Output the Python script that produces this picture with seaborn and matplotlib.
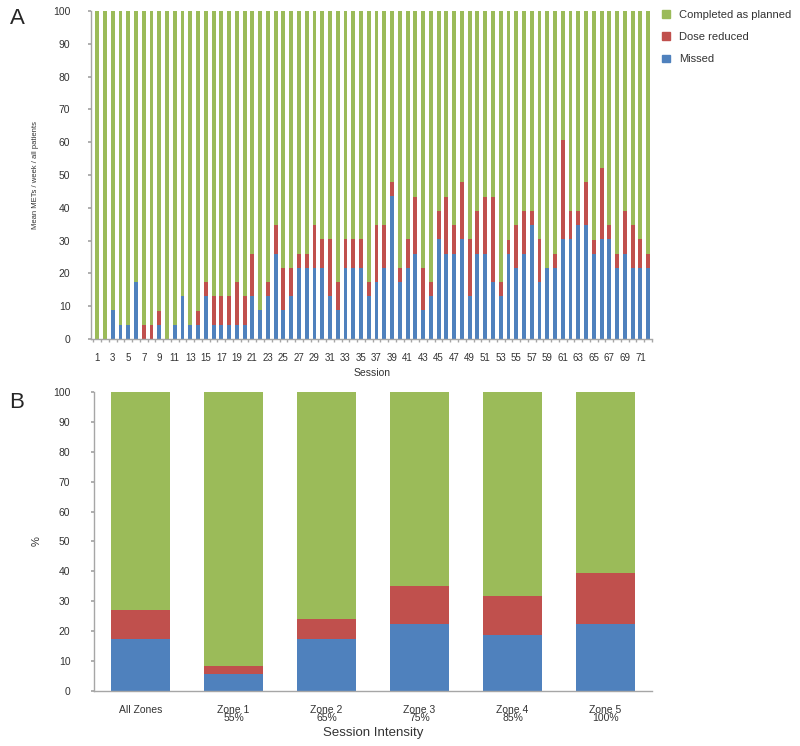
import matplotlib
matplotlib.use("Agg")
import matplotlib.pyplot as plt
from matplotlib.patches import Patch
import pandas as pd
import seaborn as sns

# Data - panel A (per session, % of mean METs)
sessions = [str(i) for i in range(1, 73)]
missed = [0, 0, 8.7, 4.3, 4.3, 17.4, 0, 0, 4.3, 0,
          4.3, 13, 4.3, 4.3, 13, 4.3, 4.3, 4.3, 4.3, 4.3,
          13, 8.7, 13, 26, 8.7, 13, 21.7, 21.7, 21.7, 21.7,
          13, 8.7, 21.7, 21.7, 21.7, 13, 17.4, 21.7, 43.5, 17.4,
          21.7, 26, 8.7, 13, 30.4, 26, 26, 30.4, 13, 26,
          26, 17.4, 13, 26, 21.7, 26, 34.8, 17.4, 21.7, 21.7,
          30.4, 30.4, 34.8, 34.8, 26, 30.4, 30.4, 21.7, 26, 21.7,
          21.7, 21.7]
dose_reduced = [0, 0, 0, 0, 0, 0, 4.3, 4.3, 4.3, 0,
                0, 0, 0, 4.3, 4.3, 8.7, 8.7, 8.7, 13, 8.7,
                13, 0, 4.3, 8.7, 13, 8.7, 4.3, 4.3, 13, 8.7,
                17.4, 8.7, 8.7, 8.7, 8.7, 4.3, 17.4, 13, 4.3, 4.3,
                8.7, 17.4, 13, 4.3, 8.7, 17.4, 8.7, 17.4, 17.4, 13,
                17.4, 26, 4.3, 4.3, 13, 13, 4.3, 13, 0, 4.3,
                30.4, 8.7, 4.3, 13, 4.3, 21.7, 4.3, 4.3, 13, 13,
                8.7, 4.3]

# Data - panel B (by session intensity)
zones = ["All Zones", "Zone 1\n55%", "Zone 2\n65%", "Zone 3\n75%", "Zone 4\n85%", "Zone 5\n100%"]
zone_missed = [17.3, 5.5, 17.2, 22.3, 18.6, 22.3]
zone_dose = [9.8, 2.7, 6.8, 12.7, 13.1, 17.1]

GREEN = "#9BBB59"
RED = "#C0504D"
BLUE = "#4F81BD"
GRAY = "#A6A6A6"
TXT = "#333333"

df_a = pd.DataFrame({"session": sessions, "missed": missed, "dose": dose_reduced})
df_a["total"] = df_a["missed"] + df_a["dose"]
df_a["full"] = 100.0

df_b = pd.DataFrame({"zone": zones, "missed": zone_missed, "dose": zone_dose})
df_b["total"] = df_b["missed"] + df_b["dose"]
df_b["full"] = 100.0

sns.set_theme(style="white")
plt.rcParams["font.family"] = ["Liberation Sans", "DejaVu Sans"]

fig = plt.figure(figsize=(8, 7.46), dpi=100)
ax_a = fig.add_axes([0.114, 0.5456, 0.701, 0.4397])
ax_b = fig.add_axes([0.1175, 0.0741, 0.6975, 0.4004])

# ---- Panel A ----
for col, colr in [("full", GREEN), ("total", RED), ("missed", BLUE)]:
    sns.barplot(data=df_a, x="session", y=col, order=sessions, color=colr,
                width=0.5, saturation=1, ax=ax_a, linewidth=0)
ax_a.set_xlim(-0.77, 71.4)
ax_a.set_ylim(0, 100)
ax_a.set_yticks(range(0, 101, 10))
ax_a.set_xticks(range(0, 72, 2))
ax_a.set_xticklabels(sessions[::2], fontsize=7, color=TXT)
ax_a.set_xticks([i + 0.5 for i in range(-1, 72)], minor=True)
ax_a.tick_params(axis="y", labelsize=7.5, labelcolor=TXT, left=True,
                 length=2, color=GRAY, pad=13)
ax_a.tick_params(axis="x", which="major", bottom=False, pad=4)
ax_a.tick_params(axis="x", which="minor", bottom=True, length=2, color=GRAY)
ax_a.set_xlabel("Session", fontsize=7.5, color=TXT, labelpad=4)
ax_a.set_ylabel("Mean METs / week / all patients", fontsize=5.5,
                color=TXT, labelpad=10)

# ---- Panel B ----
for col, colr in [("full", GREEN), ("total", RED), ("missed", BLUE)]:
    sns.barplot(data=df_b, x="zone", y=col, order=zones, color=colr,
                width=0.645, saturation=1, ax=ax_b, linewidth=0)
ax_b.set_xlim(-0.5, 5.5)
ax_b.set_ylim(0, 100)
ax_b.set_yticks(range(0, 101, 10))
ax_b.tick_params(axis="y", labelsize=7.5, labelcolor=TXT, left=True,
                 length=2, color=GRAY, pad=15)
ax_b.tick_params(axis="x", labelsize=7.5, labelcolor=TXT, bottom=False, pad=4)
for t in ax_b.get_xticklabels():
    t.set_linespacing(0.8)
ax_b.set_xlabel("Session Intensity", fontsize=9.5, color=TXT, labelpad=3)
ax_b.set_ylabel("%", fontsize=8, color=TXT, labelpad=8)

for ax in (ax_a, ax_b):
    sns.despine(ax=ax)
    for s in ("left", "bottom"):
        ax.spines[s].set_color(GRAY)
        ax.spines[s].set_linewidth(1)

fig.text(0.012, 0.975, "A", fontsize=16, ha="left", va="center")
fig.text(0.012, 0.461, "B", fontsize=16, ha="left", va="center")

handles = [Patch(color=GREEN, label="Completed as planned"),
           Patch(color=RED, label="Dose reduced"),
           Patch(color=BLUE, label="Missed")]
fig.legend(handles=handles, loc="upper left", bbox_to_anchor=(0.815, 1.0),
           frameon=False, fontsize=8, handlelength=0.7, handleheight=0.7,
           handletextpad=0.8, labelspacing=1.1, labelcolor=TXT)

fig.savefig("out.png", dpi=100)
